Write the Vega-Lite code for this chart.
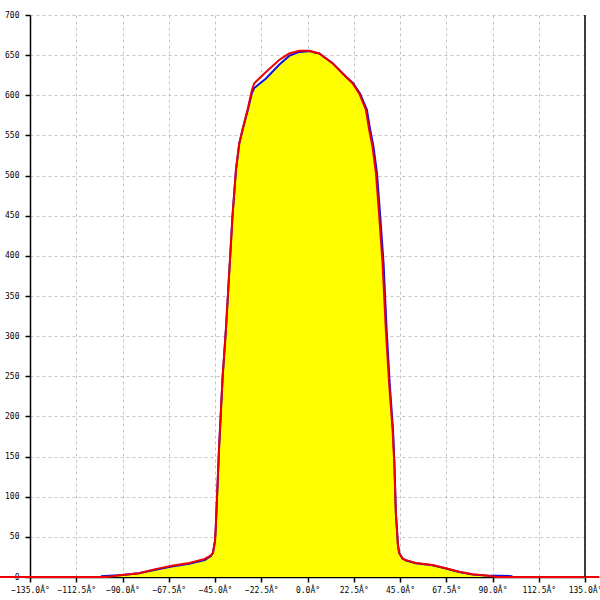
{
  "$schema": "https://vega.github.io/schema/vega-lite/v6.json",
  "width": 555,
  "height": 562,
  "autosize": "none",
  "padding": {"left": 30, "top": 15, "right": 15, "bottom": 23},
  "background": "white",
  "config": {
    "view": {"stroke": null},
    "axis": {
      "zindex": 0,
      "labelFont": "DejaVu Sans Mono",
      "labelFontSize": 8,
      "labelColor": "#000000",
      "tickColor": "#000000",
      "tickSize": 5,
      "tickWidth": 1.5,
      "domainColor": "#000000",
      "domainWidth": 1.5,
      "gridColor": "#c4c4c4",
      "gridDash": [3, 3],
      "gridWidth": 1,
      "title": null,
      "labelFlush": false,
      "labelOverlap": false
    }
  },
  "datasets": {
    "curves": [
      {"series": "blue", "deg": -100.5, "value": 1},
      {"series": "blue", "deg": -90, "value": 2.5},
      {"series": "blue", "deg": -82, "value": 4.6},
      {"series": "blue", "deg": -74, "value": 9},
      {"series": "blue", "deg": -66, "value": 13},
      {"series": "blue", "deg": -57.5, "value": 16.5},
      {"series": "blue", "deg": -50, "value": 21},
      {"series": "blue", "deg": -47, "value": 26},
      {"series": "blue", "deg": -46, "value": 30},
      {"series": "blue", "deg": -45, "value": 45},
      {"series": "blue", "deg": -44.6, "value": 63},
      {"series": "blue", "deg": -43, "value": 162},
      {"series": "blue", "deg": -41.3, "value": 249},
      {"series": "blue", "deg": -39.7, "value": 308},
      {"series": "blue", "deg": -38.1, "value": 378},
      {"series": "blue", "deg": -36.5, "value": 449},
      {"series": "blue", "deg": -34.8, "value": 507},
      {"series": "blue", "deg": -33.2, "value": 540},
      {"series": "blue", "deg": -31.6, "value": 557},
      {"series": "blue", "deg": -29, "value": 582},
      {"series": "blue", "deg": -27, "value": 603},
      {"series": "blue", "deg": -25.9, "value": 609},
      {"series": "blue", "deg": -20.2, "value": 621},
      {"series": "blue", "deg": -13.8, "value": 638},
      {"series": "blue", "deg": -8.9, "value": 649},
      {"series": "blue", "deg": -4, "value": 654},
      {"series": "blue", "deg": 0.8, "value": 655},
      {"series": "blue", "deg": 5.7, "value": 652},
      {"series": "blue", "deg": 12.2, "value": 640},
      {"series": "blue", "deg": 18.7, "value": 623},
      {"series": "blue", "deg": 22.2, "value": 615},
      {"series": "blue", "deg": 25.6, "value": 602},
      {"series": "blue", "deg": 28.9, "value": 582},
      {"series": "blue", "deg": 30.5, "value": 557},
      {"series": "blue", "deg": 32.1, "value": 536},
      {"series": "blue", "deg": 33.8, "value": 503},
      {"series": "blue", "deg": 35.4, "value": 449},
      {"series": "blue", "deg": 37, "value": 391},
      {"series": "blue", "deg": 38.5, "value": 308},
      {"series": "blue", "deg": 40, "value": 241},
      {"series": "blue", "deg": 41.6, "value": 183},
      {"series": "blue", "deg": 42.3, "value": 142},
      {"series": "blue", "deg": 43, "value": 79},
      {"series": "blue", "deg": 44, "value": 40},
      {"series": "blue", "deg": 44.6, "value": 30},
      {"series": "blue", "deg": 46.2, "value": 23},
      {"series": "blue", "deg": 48, "value": 20.5},
      {"series": "blue", "deg": 52.7, "value": 17},
      {"series": "blue", "deg": 60.8, "value": 14.5},
      {"series": "blue", "deg": 67.3, "value": 10.5},
      {"series": "blue", "deg": 73.8, "value": 6.3},
      {"series": "blue", "deg": 80.3, "value": 3.2},
      {"series": "blue", "deg": 86.8, "value": 2},
      {"series": "blue", "deg": 99.7, "value": 1},
      {"series": "red", "deg": -150, "value": 0},
      {"series": "red", "deg": -98, "value": 0},
      {"series": "red", "deg": -90, "value": 2.5},
      {"series": "red", "deg": -82, "value": 4.8},
      {"series": "red", "deg": -74, "value": 9.8},
      {"series": "red", "deg": -66, "value": 14},
      {"series": "red", "deg": -57.5, "value": 17.5},
      {"series": "red", "deg": -50, "value": 22.5},
      {"series": "red", "deg": -47, "value": 27},
      {"series": "red", "deg": -46, "value": 30},
      {"series": "red", "deg": -45, "value": 45},
      {"series": "red", "deg": -44.6, "value": 63},
      {"series": "red", "deg": -43, "value": 162},
      {"series": "red", "deg": -41.3, "value": 249},
      {"series": "red", "deg": -39.7, "value": 308},
      {"series": "red", "deg": -38.1, "value": 378},
      {"series": "red", "deg": -36.5, "value": 449},
      {"series": "red", "deg": -34.8, "value": 507},
      {"series": "red", "deg": -33.2, "value": 540},
      {"series": "red", "deg": -31.6, "value": 557},
      {"series": "red", "deg": -29, "value": 584},
      {"series": "red", "deg": -27, "value": 607},
      {"series": "red", "deg": -25.9, "value": 615},
      {"series": "red", "deg": -20.2, "value": 629},
      {"series": "red", "deg": -13.8, "value": 644},
      {"series": "red", "deg": -8.9, "value": 652},
      {"series": "red", "deg": -4, "value": 655.5},
      {"series": "red", "deg": 0.8, "value": 655.5},
      {"series": "red", "deg": 5.7, "value": 652},
      {"series": "red", "deg": 12.2, "value": 640},
      {"series": "red", "deg": 18.7, "value": 623},
      {"series": "red", "deg": 21.9, "value": 615},
      {"series": "red", "deg": 25.2, "value": 602},
      {"series": "red", "deg": 28.4, "value": 582},
      {"series": "red", "deg": 30, "value": 557},
      {"series": "red", "deg": 31.6, "value": 536},
      {"series": "red", "deg": 33.3, "value": 503},
      {"series": "red", "deg": 34.9, "value": 449},
      {"series": "red", "deg": 36.5, "value": 391},
      {"series": "red", "deg": 38.1, "value": 308},
      {"series": "red", "deg": 39.7, "value": 241},
      {"series": "red", "deg": 41.4, "value": 183},
      {"series": "red", "deg": 42.2, "value": 142},
      {"series": "red", "deg": 43, "value": 79},
      {"series": "red", "deg": 44, "value": 40},
      {"series": "red", "deg": 44.6, "value": 30},
      {"series": "red", "deg": 46.2, "value": 23},
      {"series": "red", "deg": 48, "value": 21},
      {"series": "red", "deg": 52.7, "value": 17.5},
      {"series": "red", "deg": 60.8, "value": 15},
      {"series": "red", "deg": 67.3, "value": 11},
      {"series": "red", "deg": 73.8, "value": 6.6},
      {"series": "red", "deg": 80.3, "value": 3.3},
      {"series": "red", "deg": 86.8, "value": 2},
      {"series": "red", "deg": 92, "value": 0},
      {"series": "red", "deg": 142, "value": 0}
    ],
    "frame": [{"deg": 135}]
  },
  "encoding": {
    "x": {
      "field": "deg",
      "type": "quantitative",
      "scale": {"domain": [-135, 135], "nice": false, "zero": false},
      "axis": {
        "values": [-135, -112.5, -90, -67.5, -45, -22.5, 0, 22.5, 45, 67.5, 90, 112.5, 135],
        "labelExpr": "format(datum.value, '.1f') + 'Â°'",
        "labelPadding": 4
      }
    }
  },
  "layer": [
    {
      "data": {"name": "curves"},
      "transform": [{"filter": "datum.series === 'blue'"}],
      "mark": {"type": "area", "color": "#ffff00", "opacity": 1},
      "encoding": {
        "y": {
          "field": "value",
          "type": "quantitative",
          "scale": {"domain": [0, 700], "nice": false},
          "axis": {
            "values": [0, 50, 100, 150, 200, 250, 300, 350, 400, 450, 500, 550, 600, 650, 700],
            "format": "d",
            "labelPadding": 6
          }
        }
      }
    },
    {
      "data": {"name": "curves"},
      "transform": [{"filter": "datum.series === 'blue'"}],
      "mark": {"type": "line", "color": "#1010e0", "strokeWidth": 2},
      "encoding": {"y": {"field": "value", "type": "quantitative"}}
    },
    {
      "data": {"name": "curves"},
      "transform": [{"filter": "datum.series === 'red'"}],
      "mark": {"type": "line", "color": "#ee0000", "strokeWidth": 2, "clip": false},
      "encoding": {"y": {"field": "value", "type": "quantitative"}}
    },
    {
      "data": {"name": "frame"},
      "mark": {"type": "rule", "color": "#000000", "strokeWidth": 1.5},
      "encoding": {}
    }
  ]
}
